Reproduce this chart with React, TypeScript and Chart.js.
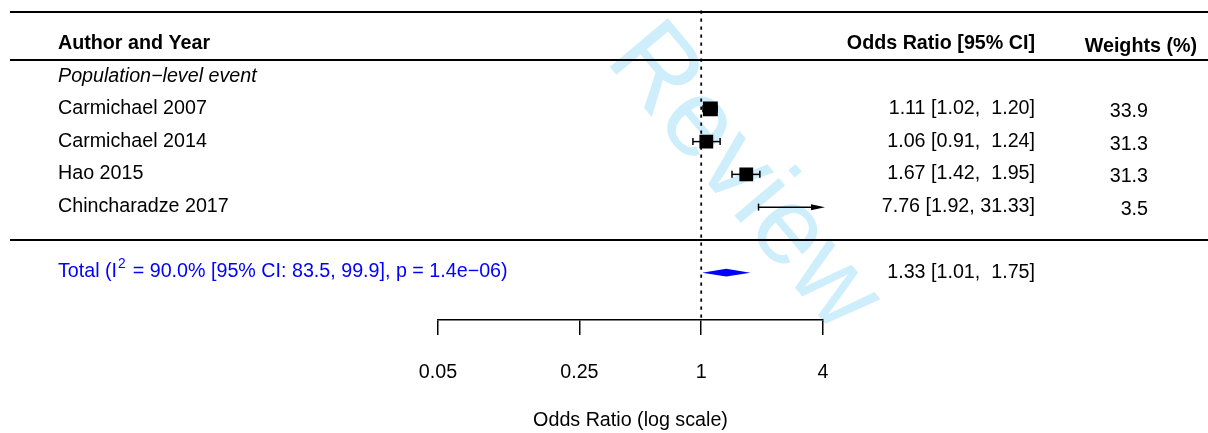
import React, { useEffect, useRef } from 'react';
import { Chart, registerables } from 'chart.js';

Chart.register(...registerables);

// ---------- data ----------
const studies = ['Carmichael 2007', 'Carmichael 2014', 'Hao 2015', 'Chincharadze 2017'];
const oddsRatios = [1.11, 1.06, 1.67, 7.76];
const ciLower = [1.02, 0.91, 1.42, 1.92];
const ciUpper = [1.2, 1.24, 1.95, 31.33];
const weights = [33.9, 31.3, 31.3, 3.5];
const studyRows = [4, 3, 2, 1];

const totalOR = 1.33;
const totalLower = 1.01;
const totalUpper = 1.75;
const totalRow = -1;
const i2Value = '90.0';
const i2Lower = '83.5';
const i2Upper = '99.9';
const pValue = '1.4e\u221206';

const headerRow = 6;
const subgroupRow = 5;
const subgroupLabel = 'Population\u2212level event';
const ruleRows = [7, 5.5, 0];

const headerLabels = ['Author and Year', 'Odds Ratio [95% CI]', 'Weights (%)'];
const axisTicks = [0.05, 0.25, 1, 4];
const axisTickLabels = ['0.05', '0.25', '1', '4'];
const axisTitle = 'Odds Ratio (log scale)';
const xMin = 0.05;
const xMax = 4;
const yMin = -2.445;
const yMax = 7;
const refValue = 1;
const watermarkText = 'For Peer Review';

// ---------- styling ----------
const FONT = "'Liberation Sans', Arial, Helvetica, sans-serif";
const FS = 19.7;
const LEFT_X = 58;
const OR_RIGHT_X = 1035;
const W_RIGHT_X = 1148;
const W_HEAD_RIGHT_X = 1197;
const RULE_X0 = 10;

const hiWidth = Math.max(...ciUpper.map((v) => v.toFixed(2).length), totalUpper.toFixed(2).length);
const loWidth = Math.max(...ciLower.map((v) => v.toFixed(2).length), totalLower.toFixed(2).length);
function fmtCI(est: number, lo: number, hi: number) {
  return `${est.toFixed(2)} [${lo.toFixed(2).padStart(loWidth, ' ')}, ${hi.toFixed(2).padStart(hiWidth, ' ')}]`;
}

const forestPlugin = {
  id: 'forestDecor',
  beforeDraw(chart: any) {
    const ctx = chart.ctx;
    ctx.save();
    ctx.fillStyle = '#ffffff';
    ctx.fillRect(0, 0, chart.width, chart.height);
    // watermark
    const F = 110;
    const ang = (50 * Math.PI) / 180;
    ctx.translate(604, 60);
    ctx.rotate(ang);
    ctx.font = `${F}px ${FONT}`;
    ctx.fillStyle = 'rgb(206,238,252)';
    ctx.textBaseline = 'alphabetic';
    ctx.textAlign = 'left';
    const pre = ctx.measureText('For Peer  ').width;
    ctx.fillText(watermarkText.replace('Peer ', 'Peer  '), -pre, 0);
    ctx.restore();
  },
  beforeDatasetsDraw(chart: any) {
    const ctx = chart.ctx;
    const xs = chart.scales.x;
    const ys = chart.scales.y;
    ctx.save();
    // horizontal rules
    ctx.strokeStyle = '#000';
    ctx.lineWidth = 2;
    ruleRows.forEach((r) => {
      const py = Math.round(ys.getPixelForValue(r)) + (r === 7 ? 1 : 0);
      ctx.beginPath();
      ctx.moveTo(RULE_X0, py);
      ctx.lineTo(chart.width, py);
      ctx.stroke();
    });
    // reference dotted line
    const rx = xs.getPixelForValue(refValue);
    ctx.setLineDash([3.3, 4.7]);
    ctx.lineWidth = 1.8;
    ctx.beginPath();
    ctx.moveTo(rx, ys.getPixelForValue(yMax));
    ctx.lineTo(rx, ys.getPixelForValue(yMin));
    ctx.stroke();
    ctx.setLineDash([]);
    // CI bars
    ctx.lineWidth = 1.5;
    studies.forEach((_, i) => {
      const py = ys.getPixelForValue(studyRows[i]);
      const lo = Math.max(ciLower[i], xMin);
      const hi = Math.min(ciUpper[i], xMax);
      const x0 = xs.getPixelForValue(lo);
      const x1 = xs.getPixelForValue(hi);
      ctx.beginPath();
      ctx.moveTo(x0, py);
      ctx.lineTo(ciUpper[i] > xMax ? x1 - 10 : x1, py);
      ctx.stroke();
      const cap = 3.5;
      if (ciLower[i] >= xMin) {
        ctx.beginPath();
        ctx.moveTo(x0, py - cap);
        ctx.lineTo(x0, py + cap);
        ctx.stroke();
      }
      if (ciUpper[i] <= xMax) {
        ctx.beginPath();
        ctx.moveTo(x1, py - cap);
        ctx.lineTo(x1, py + cap);
        ctx.stroke();
      } else {
        ctx.fillStyle = '#000';
        ctx.beginPath();
        ctx.moveTo(x1 + 2, py);
        ctx.lineTo(x1 - 12, py - 3);
        ctx.lineTo(x1 - 12, py + 3);
        ctx.closePath();
        ctx.fill();
      }
    });
    ctx.restore();
  },
  afterDatasetsDraw(chart: any) {
    const ctx = chart.ctx;
    const xs = chart.scales.x;
    const ys = chart.scales.y;
    ctx.save();
    // summary diamond
    const dy = ys.getPixelForValue(totalRow);
    ctx.fillStyle = '#0000ff';
    ctx.beginPath();
    ctx.moveTo(xs.getPixelForValue(totalLower), dy);
    ctx.lineTo(xs.getPixelForValue(totalOR), dy - 3.8);
    ctx.lineTo(xs.getPixelForValue(totalUpper), dy);
    ctx.lineTo(xs.getPixelForValue(totalOR), dy + 3.8);
    ctx.closePath();
    ctx.fill();

    ctx.textBaseline = 'middle';
    // header
    const hy = ys.getPixelForValue(headerRow);
    ctx.fillStyle = '#000';
    ctx.font = `bold ${FS}px ${FONT}`;
    ctx.textAlign = 'left';
    ctx.fillText(headerLabels[0], LEFT_X, hy + 0.5);
    ctx.textAlign = 'right';
    ctx.fillText(headerLabels[1], OR_RIGHT_X, hy + 0.5);
    ctx.fillText(headerLabels[2], W_HEAD_RIGHT_X, hy + 3);
    // subgroup
    ctx.font = `italic ${FS}px ${FONT}`;
    ctx.textAlign = 'left';
    ctx.fillText(subgroupLabel, LEFT_X, ys.getPixelForValue(subgroupRow));
    // study rows
    ctx.font = `${FS}px ${FONT}`;
    studies.forEach((s, i) => {
      const py = ys.getPixelForValue(studyRows[i]);
      ctx.textAlign = 'left';
      ctx.fillText(s, LEFT_X, py - 0.5);
      ctx.textAlign = 'right';
      ctx.fillText(fmtCI(oddsRatios[i], ciLower[i], ciUpper[i]), OR_RIGHT_X, py - 0.5);
      ctx.fillText(weights[i].toFixed(1), W_RIGHT_X, py + 2.5);
    });
    // total row
    ctx.textAlign = 'right';
    ctx.fillStyle = '#000';
    ctx.fillText(fmtCI(totalOR, totalLower, totalUpper), OR_RIGHT_X, dy - 0.5);
    ctx.fillStyle = '#0000ff';
    ctx.textAlign = 'left';
    let tx = LEFT_X;
    const p1 = 'Total (I';
    ctx.fillText(p1, tx, dy - 1.5);
    tx += ctx.measureText(p1).width;
    ctx.font = `${FS * 0.7}px ${FONT}`;
    ctx.fillText('2', tx + 1, dy - 8.5);
    tx += ctx.measureText('2').width + 2.5;
    ctx.font = `${FS}px ${FONT}`;
    const rest = ` = ${i2Value}% [95% CI: ${i2Lower}, ${i2Upper}], p = ${pValue})`;
    ctx.fillText(rest, tx, dy - 1.5);
    ctx.restore();
  },
};

export default function App() {
  const canvasRef = useRef<HTMLCanvasElement | null>(null);

  useEffect(() => {
    const canvas = canvasRef.current;
    if (!canvas) return;
    const radii = weights.map((w) => (w * 0.44) / Math.SQRT2);
    const chart = new Chart(canvas, {
      type: 'scatter',
      data: {
        datasets: [
          {
            label: 'Studies',
            data: studies.map((_, i) => ({ x: oddsRatios[i], y: studyRows[i] })),
            pointStyle: 'rect',
            pointRadius: radii,
            pointHoverRadius: radii,
            backgroundColor: '#000',
            borderWidth: 0,
            pointBorderWidth: 0,
            clip: 0,
          } as any,
        ],
      },
      options: {
        animation: false,
        responsive: false,
        events: [],
        devicePixelRatio: 1,
        layout: { padding: { left: 438, right: 385, top: 10, bottom: 0 } },
        plugins: { legend: { display: false }, tooltip: { enabled: false } },
        scales: {
          x: {
            type: 'logarithmic',
            min: xMin,
            max: xMax,
            bounds: 'data',
            afterBuildTicks: (s: any) => {
              s.ticks = axisTicks.map((v) => ({ value: v }));
            },
            afterFit: (s: any) => {
              s.height = 113;
            },
            ticks: {
              autoSkip: false,
              maxRotation: 0,
              minRotation: 0,
              padding: 26,
              color: '#000',
              font: { family: FONT, size: FS },
              callback: (_v: any, i: number) => axisTickLabels[i],
            },
            grid: {
              display: true,
              drawOnChartArea: false,
              drawTicks: true,
              tickLength: 15,
              color: '#000',
              lineWidth: 1.5,
            },
            border: { display: true, color: '#000', width: 1.5 },
            title: {
              display: true,
              text: axisTitle,
              color: '#000',
              font: { family: FONT, size: FS },
              padding: { top: 0, bottom: 0.5 },
            },
          },
          y: {
            type: 'linear',
            display: false,
            min: yMin,
            max: yMax,
            bounds: 'data',
          },
        },
      } as any,
      plugins: [forestPlugin],
    });
    return () => chart.destroy();
  }, []);

  return (
    <div style={{ width: 1208, height: 433, position: 'absolute', left: 0, top: 0 }}>
      <style>{`body{margin:0}`}</style>
      <canvas ref={canvasRef} width={1208} height={433} style={{ display: 'block' }} />
    </div>
  );
}
